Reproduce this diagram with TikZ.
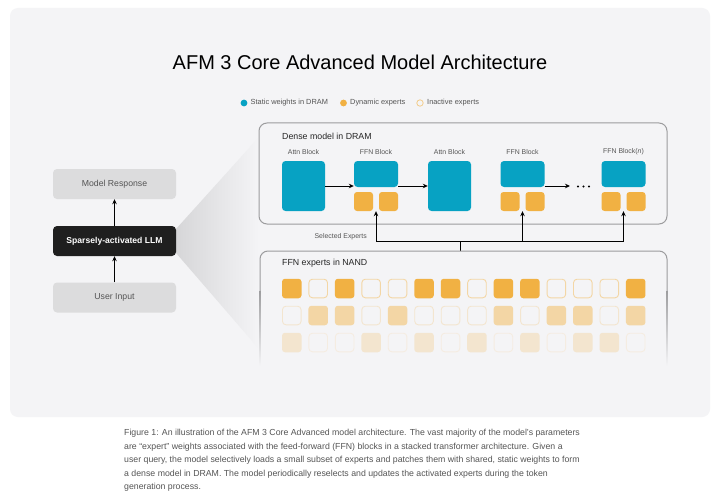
\documentclass[tikz,border=0pt]{standalone}
\usepackage{fontspec}
\setmainfont{Liberation Sans}
\usetikzlibrary{arrows.meta}
\definecolor{bg}{HTML}{F4F4F6}
\definecolor{tealblk}{HTML}{07A2C3}
\definecolor{org}{HTML}{F1B143}
\definecolor{boxgray}{HTML}{DCDCDD}
\definecolor{txtgray}{HTML}{555555}
\definecolor{edgegray}{HTML}{9C9C9E}
\definecolor{funnel}{HTML}{D6D6D8}
\begin{document}
\begin{tikzpicture}[x=1pt,y=-1pt,
  lbl/.style={font=\fontsize{6.9}{8}\selectfont, text=txtgray, inner sep=0},
  leftbox/.style={draw=none, fill=boxgray, rounded corners=4pt, minimum width=123pt, minimum height=30pt, inner sep=0, font=\fontsize{8.7}{10}\selectfont, text=txtgray},
  tealbox/.style={fill=tealblk, rounded corners=3.5pt, inner sep=0},
  orgbox/.style={fill=org, rounded corners=3pt, minimum width=19pt, minimum height=19pt, inner sep=0},
  grp/.style={minimum width=44pt, minimum height=50pt, inner sep=0},
  arr/.style={-{Stealth[length=5pt,width=4.5pt]}, line width=0.9pt, black},
  frame/.style={draw=edgegray, line width=1pt, rounded corners=8pt}
]
\useasboundingbox (0,0) rectangle (720,500);
\fill[white] (0,0) rectangle (720,500);
\fill[bg, rounded corners=8pt] (10,8) rectangle (710,417);

% title
\node[font=\fontsize{20}{22}\selectfont, text=black] (title) at (360,62) {AFM 3 Core Advanced Model Architecture};

% legend
\fill[tealblk] (244,103) circle (3.4);
\node[lbl, anchor=west, font=\fontsize{7.4}{8}\selectfont] (lg1) at (250.5,103) {Static weights in DRAM};
\fill[org] (343.5,103) circle (3.4);
\node[lbl, anchor=west, font=\fontsize{7.4}{8}\selectfont] (lg2) at (350,103) {Dynamic experts};
\draw[org!60!bg, line width=0.8pt] (420,103) circle (3.2);
\node[lbl, anchor=west, font=\fontsize{7.4}{8}\selectfont] (lg3) at (427,103) {Inactive experts};

% funnel
\shade[left color=funnel, right color=bg] (176,229) -- (259,137) -- (259,349) -- (176,253) -- cycle;

% left column
\node[leftbox] (resp) at (114.5,184) {Model Response};
\node[leftbox, fill=black!88, text=white, font=\bfseries\fontsize{8.6}{10}\selectfont] (llm) at (114.5,241) {Sparsely-activated LLM};
\node[leftbox] (inp) at (114.5,297.5) {User Input};
\draw[arr] (llm) -- (resp);
\draw[arr] (inp) -- (llm);

% dense model box
\node[frame, minimum width=408pt, minimum height=101pt, inner sep=0] (dense) at (463,173.5) {};
\node[anchor=west, inner sep=0, font=\fontsize{8.8}{10}\selectfont, text=black!85] (densel) at (282,136) {Dense model in DRAM};

% blocks
\node[tealbox, minimum width=43pt, minimum height=50pt] (attn1) at (303.5,186) {};
\node[lbl] (attn1l) at (303.5,152) {Attn Block};

\node[grp] (ffn1) at (376,186) {};
\node[tealbox, minimum width=44pt, minimum height=26pt] (ffn1t) at (376,174) {};
\node[orgbox] (ffn1a) at (363.5,201.5) {};
\node[orgbox] (ffn1b) at (388.5,201.5) {};
\node[lbl] (ffn1l) at (376,152) {FFN Block};

\node[tealbox, minimum width=43pt, minimum height=50pt] (attn2) at (449.5,186) {};
\node[lbl] (attn2l) at (449.5,152) {Attn Block};

\node[grp] (ffn2) at (522.5,186) {};
\node[tealbox, minimum width=44pt, minimum height=26pt] (ffn2t) at (522.5,174) {};
\node[orgbox] (ffn2a) at (510,201.5) {};
\node[orgbox] (ffn2b) at (535,201.5) {};
\node[lbl] (ffn2l) at (522.5,152) {FFN Block};

\node[grp] (ffnn) at (623.5,186) {};
\node[tealbox, minimum width=44pt, minimum height=26pt] (ffnnt) at (623.5,174) {};
\node[orgbox] (ffnna) at (611,201.5) {};
\node[orgbox] (ffnnb) at (636,201.5) {};
\node[lbl] (ffnnl) at (623.5,152) {FFN Block(\textit{n})};

\coordinate (dots) at (570,186);
\draw[arr] (attn1.east) -- (ffn1.west);
\draw[arr] (ffn1.east) -- (attn2.west);
\draw[arr] (ffn2.east) -- (dots);
\foreach \x in {578,583.5,589} \fill[black] (\x,186.5) circle (1.05);

% selected experts
\coordinate (sel) at (460,241);
\coordinate (nandtop) at (460,251);
\draw[line width=0.9pt] (nandtop) -- (sel);
\draw[arr] (sel) -| (ffn1.south);
\draw[arr] (sel) -| (ffn2.south);
\draw[arr] (sel) -| (ffnn.south);
\node[lbl, anchor=east] (sell) at (367,237) {Selected Experts};

% NAND box (open, fading bottom)
\draw[edgegray, line width=1pt, rounded corners=8pt] (260,290) -- (260,251) -- (667,251) -- (667,290);
\shade[top color=edgegray, bottom color=bg] (259.5,290) rectangle (260.5,366);
\shade[top color=edgegray, bottom color=bg] (666.5,290) rectangle (667.5,366);
\node[anchor=west, inner sep=0, font=\fontsize{8.8}{10}\selectfont, text=black!85] (nandl) at (282,263) {FFN experts in NAND};

% expert grid
\foreach \r/\pat/\fc/\oc in {1/{1,0,1,0,0,1,1,0,1,1,0,0,0,1}/org/org!45!bg, 2/{0,1,1,0,1,0,0,0,1,0,1,1,0,1}/org!45!bg/org!22!bg, 3/{1,0,0,1,0,1,0,1,0,1,0,1,1,0}/org!22!bg/org!12!bg}{
  \foreach \v [count=\c from 0] in \pat {
    \pgfmathsetmacro{\cx}{291.75+26.46*\c}
    \pgfmathsetmacro{\cy}{288.5+27*(\r-1)}
    \ifnum\v=1
      \node[fill=\fc, rounded corners=3pt, minimum width=19.5pt, minimum height=19.5pt, inner sep=0] (e\r-\c) at (\cx,\cy) {};
    \else
      \node[draw=\oc, line width=0.9pt, rounded corners=3.5pt, minimum width=18.6pt, minimum height=18.6pt, inner sep=0] (e\r-\c) at (\cx,\cy) {};
    \fi
  }
}

% caption
\node[anchor=north west, align=left, inner sep=0, text=txtgray, font=\fontsize{8.75}{13.6}\selectfont] (caption) at (124,429) {%
Figure 1: An illustration of the AFM 3 Core Advanced model architecture. The vast majority of the model’s parameters\\
are “expert” weights associated with the feed-forward (FFN) blocks in a stacked transformer architecture. Given a\\
user query, the model selectively loads a small subset of experts and patches them with shared, static weights to form\\
a dense model in DRAM. The model periodically reselects and updates the activated experts during the token\\
generation process.};
\end{tikzpicture}
\end{document}
